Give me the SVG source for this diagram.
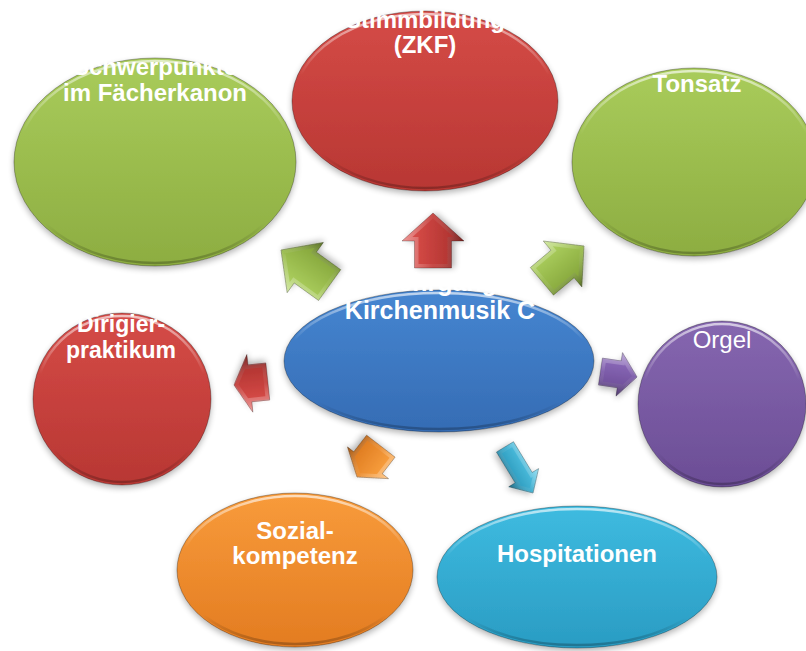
<svg xmlns="http://www.w3.org/2000/svg" xmlns:xlink="http://www.w3.org/1999/xlink" width="806" height="651" viewBox="0 0 806 651">
<style>
text{font-family:"Liberation Sans",Arial,sans-serif;font-size:24px;font-weight:bold;fill:#fff;text-anchor:middle}
text.reg{font-weight:normal}
.shape{filter:url(#shadow)}
.rim{fill:none;stroke:#000;stroke-opacity:.3;stroke-width:1}
.hl{fill:none;stroke:url(#hl);stroke-width:2.5}
.bev{fill:none;stroke:url(#bev);stroke-width:8;stroke-linejoin:miter}
.edge{fill:none;stroke:#000;stroke-opacity:.3;stroke-width:.8}
</style>
<defs>
<filter id="shadow" x="-20%" y="-20%" width="140%" height="150%">
<feGaussianBlur in="SourceAlpha" stdDeviation="3"/>
<feOffset dy="3" result="b"/>
<feComponentTransfer><feFuncA type="linear" slope="0.3"/></feComponentTransfer>
<feMerge><feMergeNode/><feMergeNode in="SourceGraphic"/></feMerge>
</filter>
<linearGradient id="hl" x1="0" y1="0" x2="0" y2="1">
<stop offset="0" stop-color="#fff" stop-opacity=".65"/>
<stop offset=".35" stop-color="#fff" stop-opacity="0"/>
<stop offset=".8" stop-color="#000" stop-opacity="0"/>
<stop offset="1" stop-color="#000" stop-opacity=".25"/>
</linearGradient>
<linearGradient id="bev" x1="0" y1="0" x2="0" y2="1">
<stop offset="0" stop-color="#fff" stop-opacity=".4"/>
<stop offset=".5" stop-color="#fff" stop-opacity=".05"/>
<stop offset="1" stop-color="#000" stop-opacity=".3"/>
</linearGradient>
<linearGradient id="gGreen" x1="0" y1="0" x2="0" y2="1"><stop offset="0" stop-color="#a9cc5b"/><stop offset="1" stop-color="#8dad41"/></linearGradient>
<linearGradient id="gRed" x1="0" y1="0" x2="0" y2="1"><stop offset="0" stop-color="#d54b47"/><stop offset="1" stop-color="#b83733"/></linearGradient>
<linearGradient id="gBlue" x1="0" y1="0" x2="0" y2="1"><stop offset="0" stop-color="#4686d1"/><stop offset="1" stop-color="#356cb4"/></linearGradient>
<linearGradient id="gPurple" x1="0" y1="0" x2="0" y2="1"><stop offset="0" stop-color="#8667b0"/><stop offset="1" stop-color="#6b4d95"/></linearGradient>
<linearGradient id="gOrange" x1="0" y1="0" x2="0" y2="1"><stop offset="0" stop-color="#f89b3b"/><stop offset="1" stop-color="#e37c21"/></linearGradient>
<linearGradient id="gCyan" x1="0" y1="0" x2="0" y2="1"><stop offset="0" stop-color="#3ebbe0"/><stop offset="1" stop-color="#2a9cc3"/></linearGradient>
<linearGradient id="aRed" x1="0" y1="0" x2="0" y2="1"><stop offset="0" stop-color="#e2524e"/><stop offset="1" stop-color="#a52d2a"/></linearGradient>
<linearGradient id="aGreen" x1="0" y1="0" x2="0" y2="1"><stop offset="0" stop-color="#b4d866"/><stop offset="1" stop-color="#7d9d33"/></linearGradient>
<linearGradient id="aPurple" x1="0" y1="0" x2="0" y2="1"><stop offset="0" stop-color="#9372c2"/><stop offset="1" stop-color="#664690"/></linearGradient>
<linearGradient id="aCyan" x1="0" y1="0" x2="0" y2="1"><stop offset="0" stop-color="#5acbea"/><stop offset="1" stop-color="#218eb2"/></linearGradient>
<linearGradient id="aOrange" x1="0" y1="0" x2="0" y2="1"><stop offset="0" stop-color="#ffa846"/><stop offset="1" stop-color="#d87218"/></linearGradient>
<polygon id="p1" points="0,0 -28,-31 -28,-18.5 -55,-18.5 -55,18.5 -28,18.5 -28,31"/>
<polygon id="p2" points="0,0 -30,-31 -30,-19 -60,-19 -60,19 -30,19 -30,31"/>
<polygon id="p3" points="0,0 -28,-30 -28,-18 -55,-18 -55,18 -28,18 -28,30"/>
<polygon id="p4" points="0,0 -18,-22 -18,-13.5 -37,-13.5 -37,13.5 -18,13.5 -18,22"/>
<polygon id="p5" points="0,0 -18,-17.5 -18,-10 -54,-10 -54,10 -18,10 -18,17.5"/>
<polygon id="p6" points="0,0 -18,-26 -18,-18 -39,-18 -39,18 -18,18 -18,26"/>
<polygon id="p7" points="0,0 -16,-29 -16,-18.5 -34,-18.5 -34,18.5 -16,18.5 -16,29"/>
<clipPath id="c1"><use xlink:href="#p1"/></clipPath>
<clipPath id="c2"><use xlink:href="#p2"/></clipPath>
<clipPath id="c3"><use xlink:href="#p3"/></clipPath>
<clipPath id="c4"><use xlink:href="#p4"/></clipPath>
<clipPath id="c5"><use xlink:href="#p5"/></clipPath>
<clipPath id="c6"><use xlink:href="#p6"/></clipPath>
<clipPath id="c7"><use xlink:href="#p7"/></clipPath>
</defs>
<rect width="806" height="651" fill="#fff"/>

<g id="connectors">
<g id="arrow-up" transform="translate(433,213) rotate(-90)">
<use xlink:href="#p1" fill="url(#aRed)" class="shape"/><use xlink:href="#p1" class="bev" clip-path="url(#c1)"/><use xlink:href="#p1" class="edge"/>
</g>
<g id="arrow-upleft" transform="translate(281,250) rotate(-144.2)">
<use xlink:href="#p2" fill="url(#aGreen)" class="shape"/><use xlink:href="#p2" class="bev" clip-path="url(#c2)"/><use xlink:href="#p2" class="edge"/>
</g>
<g id="arrow-upright" transform="translate(584,246) rotate(-40)">
<use xlink:href="#p3" fill="url(#aGreen)" class="shape"/><use xlink:href="#p3" class="bev" clip-path="url(#c3)"/><use xlink:href="#p3" class="edge"/>
</g>
<g id="arrow-right" transform="translate(637,377) rotate(8.5)">
<use xlink:href="#p4" fill="url(#aPurple)" class="shape"/><use xlink:href="#p4" class="bev" clip-path="url(#c4)"/><use xlink:href="#p4" class="edge"/>
</g>
<g id="arrow-downright" transform="translate(533,493) rotate(58.7)">
<use xlink:href="#p5" fill="url(#aCyan)" class="shape"/><use xlink:href="#p5" class="bev" clip-path="url(#c5)"/><use xlink:href="#p5" class="edge"/>
</g>
<g id="arrow-downleft" transform="translate(357,477) rotate(127.7)">
<use xlink:href="#p6" fill="url(#aOrange)" class="shape"/><use xlink:href="#p6" class="bev" clip-path="url(#c6)"/><use xlink:href="#p6" class="edge"/>
</g>
<g id="arrow-left" transform="translate(234,385) rotate(174)">
<use xlink:href="#p7" fill="url(#aRed)" class="shape"/><use xlink:href="#p7" class="bev" clip-path="url(#c7)"/><use xlink:href="#p7" class="edge"/>
</g>
</g>

<g id="node-schwerpunkte">
<ellipse class="shape" cx="155" cy="162" rx="141" ry="104" fill="url(#gGreen)"/>
<ellipse class="rim" cx="155" cy="162" rx="141" ry="104"/>
<ellipse class="hl" cx="155" cy="162" rx="138" ry="101"/>
<text x="155" y="75">Schwerpunkte</text>
<text x="155" y="101">im Fächerkanon</text>
</g>

<g id="node-stimmbildung">
<ellipse class="shape" cx="425" cy="101" rx="133" ry="90" fill="url(#gRed)"/>
<ellipse class="rim" cx="425" cy="101" rx="133" ry="90"/>
<ellipse class="hl" cx="425" cy="101" rx="130" ry="87"/>
<text x="425" y="28">Stimmbildung</text>
<text x="425" y="53">(ZKF)</text>
</g>

<g id="node-tonsatz">
<ellipse class="shape" cx="694" cy="162" rx="122" ry="94" fill="url(#gGreen)"/>
<ellipse class="rim" cx="694" cy="162" rx="122" ry="94"/>
<ellipse class="hl" cx="694" cy="162" rx="119" ry="91"/>
<text x="697" y="92">Tonsatz</text>
</g>

<g id="node-center">
<ellipse class="shape" cx="439" cy="361" rx="155" ry="71" fill="url(#gBlue)"/>
<ellipse class="rim" cx="439" cy="361" rx="155" ry="71"/>
<ellipse class="hl" cx="439" cy="361" rx="152" ry="68"/>
<text x="440" y="291" style="font-size:25px">Lehrgang</text>
<text x="440" y="319" style="font-size:25px">Kirchenmusik C</text>
</g>

<g id="node-dirigier">
<ellipse class="shape" cx="122" cy="399" rx="89" ry="86" fill="url(#gRed)"/>
<ellipse class="rim" cx="122" cy="399" rx="89" ry="86"/>
<ellipse class="hl" cx="122" cy="399" rx="86" ry="83"/>
<text x="121" y="332" style="font-size:23px">Dirigier-</text>
<text x="121" y="358" style="font-size:23px">praktikum</text>
</g>

<g id="node-orgel">
<ellipse class="shape" cx="722" cy="404" rx="84" ry="83" fill="url(#gPurple)"/>
<ellipse class="rim" cx="722" cy="404" rx="84" ry="83"/>
<ellipse class="hl" cx="722" cy="404" rx="81" ry="80"/>
<text class="reg" x="722" y="348">Orgel</text>
</g>

<g id="node-sozial">
<ellipse class="shape" cx="295" cy="570" rx="118" ry="77" fill="url(#gOrange)"/>
<ellipse class="rim" cx="295" cy="570" rx="118" ry="77"/>
<ellipse class="hl" cx="295" cy="570" rx="115" ry="74"/>
<text x="295" y="539">Sozial-</text>
<text x="295" y="564">kompetenz</text>
</g>

<g id="node-hospitationen">
<ellipse class="shape" cx="577" cy="577" rx="140" ry="71" fill="url(#gCyan)"/>
<ellipse class="rim" cx="577" cy="577" rx="140" ry="71"/>
<ellipse class="hl" cx="577" cy="577" rx="137" ry="68"/>
<text x="577" y="562">Hospitationen</text>
</g>
</svg>
